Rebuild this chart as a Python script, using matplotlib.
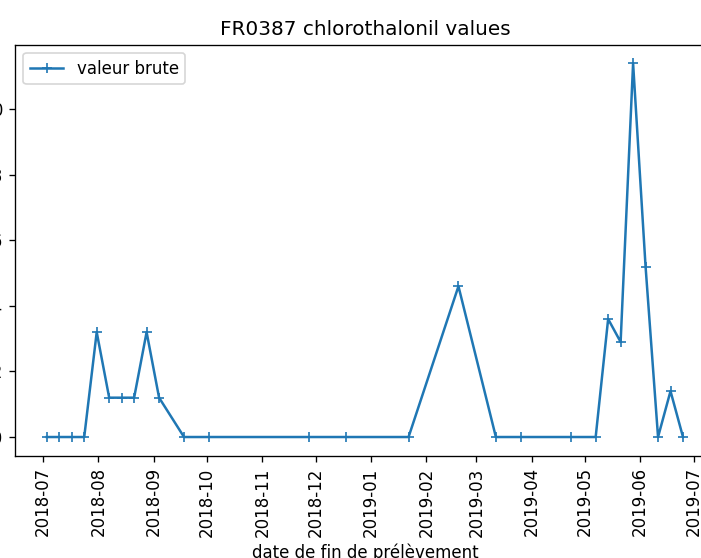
import matplotlib
matplotlib.use("Agg")
import matplotlib.pyplot as plt
import matplotlib.dates as mdates
import numpy as np

dates = ["2018-07-03", "2018-07-10", "2018-07-17", "2018-07-24", "2018-07-31",
         "2018-08-07", "2018-08-14", "2018-08-21", "2018-08-28", "2018-09-04",
         "2018-09-18", "2018-10-02", "2018-11-27", "2018-12-18", "2019-01-22",
         "2019-02-19", "2019-03-12", "2019-03-26", "2019-04-23", "2019-05-07",
         "2019-05-14", "2019-05-21", "2019-05-28", "2019-06-04", "2019-06-11",
         "2019-06-18", "2019-06-25"]
values = [0, 0, 0, 0, 0.32,
          0.12, 0.12, 0.12, 0.32, 0.12,
          0, 0, 0, 0, 0,
          0.46, 0, 0, 0, 0,
          0.36, 0.29, 1.14, 0.52, 0,
          0.14, 0]

x = np.array(dates, dtype="datetime64[D]")

DPI = 120
fig = plt.figure(figsize=(701/DPI, 558/DPI), dpi=DPI)
ax = fig.add_axes([15/701, 1-455.7/558, (714.8-15)/701, (455.7-44.7)/558])
ax.plot(x, values, marker="+", label="valeur brute")
ax.set_title("FR0387 chlorothalonil values")
ax.set_xlabel("date de fin de prélèvement")
ax.xaxis.set_major_locator(mdates.MonthLocator())
ax.xaxis.set_major_formatter(mdates.DateFormatter("%Y-%m"))
for lbl in ax.get_xticklabels():
    lbl.set_rotation(90)
ax.legend(loc="upper left")
fig.savefig("out.png", dpi=DPI)
